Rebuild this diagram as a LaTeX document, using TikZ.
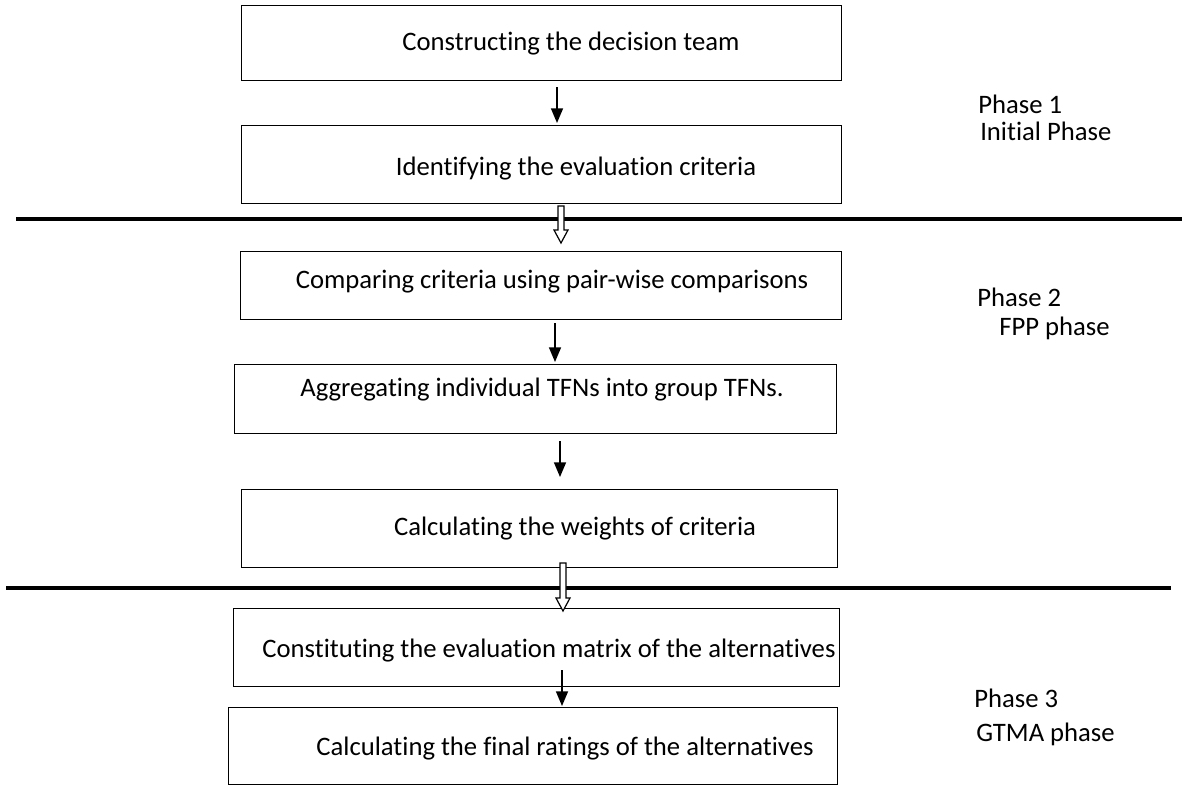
\documentclass[tikz,border=0pt]{standalone}
\usepackage{fontspec}
\setmainfont{Carlito}[Ligatures={NoCommon}]
\usetikzlibrary{arrows.meta,calc}
\begin{document}
\begin{tikzpicture}[x=0.75pt,y=-0.75pt,
  box/.style={draw,line width=1.1pt,anchor=north west,inner sep=0pt},
  txt/.style={font=\fontsize{20}{24}\selectfont,inner sep=0pt},
  ptxt/.style={font=\fontsize{20}{24}\selectfont,inner sep=0pt,anchor=west},
  sep/.style={line width=2.4pt},
  arr/.style={line width=1.1pt,-{Triangle[width=9pt,length=11pt]}},
  hollow/.style={draw,line width=0.9pt,fill=white}]
\useasboundingbox (0,0) rectangle (1182,785);
% boxes
\node[box,minimum width=600*0.75pt,minimum height=75*0.75pt] (b1) at (241,5) {};
\node[box,minimum width=600*0.75pt,minimum height=78*0.75pt] (b2) at (241,125) {};
\node[box,minimum width=601*0.75pt,minimum height=68*0.75pt] (b3) at (240,251) {};
\node[box,minimum width=602*0.75pt,minimum height=69*0.75pt] (b4) at (234,364) {};
\node[box,minimum width=596*0.75pt,minimum height=78*0.75pt] (b5) at (241,489) {};
\node[box,minimum width=606*0.75pt,minimum height=78*0.75pt] (b6) at (233,608) {};
\node[box,minimum width=609*0.75pt,minimum height=77*0.75pt] (b7) at (228,707) {};
% texts
\node[txt] (t1) at (571,44) {Constructing the decision team};
\node[txt] (t2) at (576,169) {Identifying the evaluation criteria};
\node[txt] (t3) at (552,282) {Comparing criteria using pair-wise comparisons};
\node[txt] (t4) at (542,390) {Aggregating individual TFNs into group TFNs.};
\node[txt] (t5) at (575,529) {Calculating the weights of criteria};
\node[txt] (t6) at (549,651) {Constituting the evaluation matrix of the alternatives};
\node[txt] (t7) at (565,749) {Calculating the final ratings of the alternatives};
% phase labels
\node[ptxt] (p1a) at (978,104) {Phase 1};
\node[ptxt] (p1b) at (980,131) {Initial Phase};
\node[ptxt] (p2a) at (977,297) {Phase 2};
\node[ptxt] (p2b) at (999,328) {FPP phase};
\node[ptxt] (p3a) at (974,698) {Phase 3};
\node[ptxt] (p3b) at (976,734) {GTMA phase};
% separators
\coordinate (s1l) at (16,219); \coordinate (s1r) at (1182,219);
\coordinate (s2l) at (6,588); \coordinate (s2r) at (1171,588);
\draw[sep] (s1l) -- (s1r);
\draw[sep] (s2l) -- (s2r);
% solid arrows
\coordinate (a1s) at (557,87);  \coordinate (a1e) at (557,123);
\coordinate (a2s) at (555,323); \coordinate (a2e) at (555,362);
\coordinate (a3s) at (560,441); \coordinate (a3e) at (560,477);
\coordinate (a4s) at (562,670); \coordinate (a4e) at (562,706);
\draw[arr] (a1s) -- (a1e);
\draw[arr] (a2s) -- (a2e);
\draw[arr] (a3s) -- (a3e);
\draw[arr] (a4s) -- (a4e);
% hollow arrows
\coordinate (h1s) at (561,206); \coordinate (h1e) at (561,243);
\coordinate (h2s) at (563,563); \coordinate (h2e) at (563,611);
\foreach \s/\e in {h1s/h1e,h2s/h2e}{
  \draw[hollow] ($(\s)+(-3,0)$) -- ($(\e)+(-3,-13)$) -- ($(\e)+(-7,-13)$) -- (\e)
    -- ($(\e)+(7,-13)$) -- ($(\e)+(3,-13)$) -- ($(\s)+(3,0)$) -- cycle;
}
\end{tikzpicture}
\end{document}
